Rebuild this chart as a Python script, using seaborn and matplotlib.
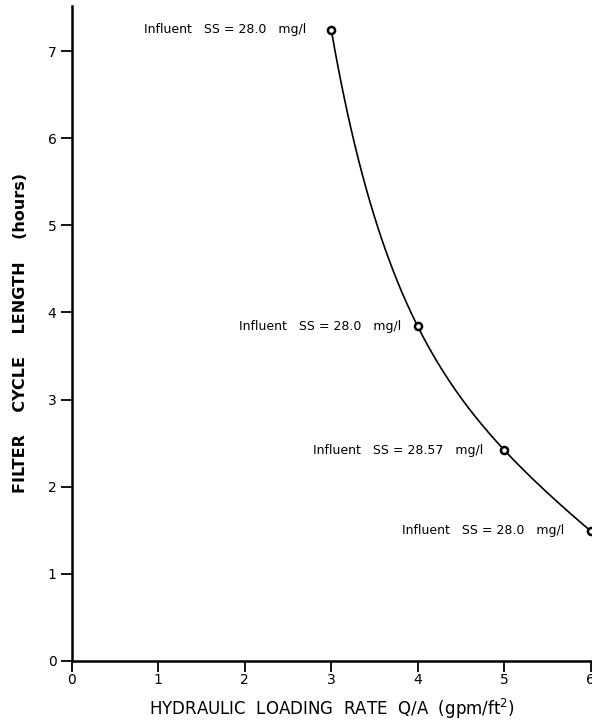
import numpy as np
import pandas as pd
import matplotlib
matplotlib.use("Agg")
import matplotlib.pyplot as plt
import seaborn as sns

# Hydraulic loading rate (gpm/ft^2) and the resulting filter run length (hours)
loading_rate = [3.0, 4.0, 5.0, 6.0]
cycle_hours = [7.25, 3.84, 2.42, 1.49]
influent_ss = ["28.0", "28.0", "28.57", "28.0"]

x_ticks = [0, 1, 2, 3, 4, 5, 6]
y_ticks = [0, 1, 2, 3, 4, 5, 6, 7]

sns.set_theme(style="ticks")
plt.rcParams["font.family"] = ["DejaVu Sans"]

points = pd.DataFrame({"rate": loading_rate, "hours": cycle_hours})

# Smooth curve: cubic through the log of the run lengths
coef = np.polyfit(points["rate"], np.log(points["hours"]), 3)
xs = np.linspace(min(loading_rate), max(loading_rate), 200)
curve = pd.DataFrame({"rate": xs, "hours": np.exp(np.polyval(coef, xs))})

W, H = 592, 728
fig = plt.figure(figsize=(W / 100, H / 100), dpi=100)
ax = fig.add_axes([71.7 / W, (H - 660.7) / H, (W - 71.7) / W, (660.7 - 6) / H])

sns.lineplot(data=curve, x="rate", y="hours", ax=ax, color="black",
             linewidth=1.2, clip_on=False, legend=False)
sns.scatterplot(data=points, x="rate", y="hours", ax=ax, marker="o", s=26,
                facecolor="white", edgecolor="black", linewidth=1.8,
                clip_on=False, zorder=5, legend=False)

offsets = [-18, -12, -15, -19]
for xv, yv, ss, dx in zip(loading_rate, cycle_hours, influent_ss, offsets):
    ax.annotate(f"Influent   SS = {ss}   mg/l", (xv, yv), xytext=(dx, 0),
                textcoords="offset points", ha="right", va="center",
                fontsize=9, color="black")

ax.set_xlim(0, 6.015)
ax.set_ylim(0, 7.52)
ax.set_xticks(x_ticks)
ax.set_yticks(y_ticks)
ax.set_xticklabels([str(t) for t in x_ticks])
ax.set_yticklabels([str(t) for t in y_ticks])

for side in ("top", "right"):
    ax.spines[side].set_visible(False)
for side in ("left", "bottom"):
    ax.spines[side].set_linewidth(1.8)
    ax.spines[side].set_color("black")

ax.tick_params(axis="both", direction="out", length=8, width=1.3,
               colors="black", labelsize=10)
ax.tick_params(axis="x", pad=1)
ax.tick_params(axis="y", pad=3)

ax.set_xlabel("HYDRAULIC  LOADING  RATE  Q/A  (gpm/ft$^2$)", fontsize=12,
              labelpad=7, color="black")
ax.set_ylabel("FILTER    CYCLE    LENGTH    (hours)", fontsize=11.5,
              fontweight="bold", labelpad=14, color="black")

fig.savefig("out.png", dpi=100, facecolor="white")
